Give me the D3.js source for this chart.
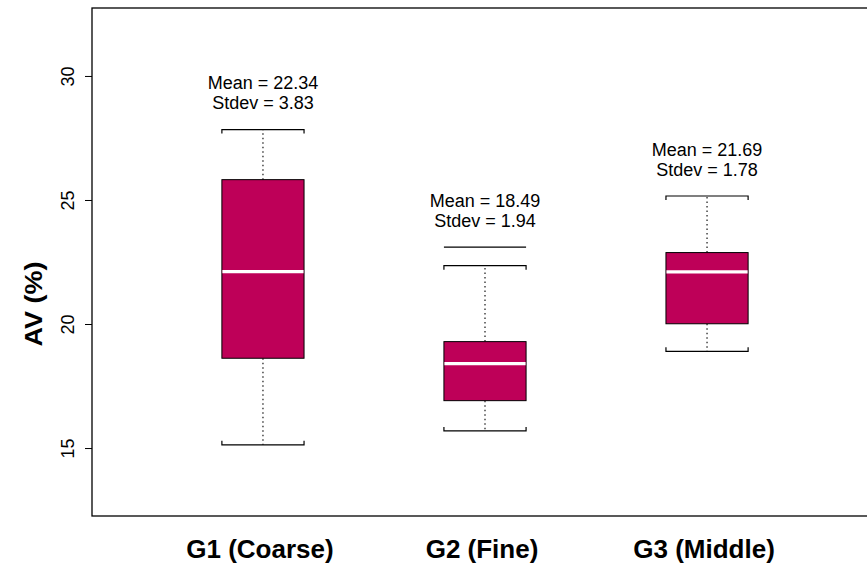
<!DOCTYPE html>
<html><head><meta charset="utf-8">
<script src="https://cdn.jsdelivr.net/npm/d3@7"></script>
<style>html,body{margin:0;padding:0;background:#fff;}svg{display:block;}</style>
</head><body>
<script>
const categories = ["G1 (Coarse)", "G2 (Fine)", "G3 (Middle)"];
const whiskerLow = [15.13, 15.69, 18.90];
const q1 = [18.62, 16.91, 20.01];
const median = [22.11, 18.40, 22.10];
const q3 = [25.82, 19.29, 22.88];
const whiskerHigh = [27.84, 22.35, 25.16];
const outliers = [[], [23.1], []];
const means = ["22.34", "18.49", "21.69"];
const stdevs = ["3.83", "1.94", "1.78"];
const yTicks = [15, 20, 25, 30];

const W = 867, H = 563;
const svg = d3.select("body").append("svg").attr("width", W).attr("height", H);
const y = d3.scaleLinear().domain([12.26, 32.74]).range([516, 8]);
const x = d3.scaleLinear().domain([0.23, 3.77]).range([92, 878]);
const boxW = 0.37;
const fill = "#BE0058";
const font = "'Liberation Sans', Arial, Helvetica, sans-serif";

// frame
svg.append("rect").attr("x", x(0.23)).attr("y", y(32.74)).attr("width", x(3.77) - x(0.23)).attr("height", y(12.26) - y(32.74))
  .attr("fill", "none").attr("stroke", "#000").attr("stroke-width", 1.3);

// y axis
const yAxis = d3.axisLeft(y).tickValues(yTicks).tickSize(7).tickFormat(d3.format("d"));
const ga = svg.append("g").attr("transform", `translate(${x(0.23)},0)`).call(yAxis);
ga.select(".domain").remove();
ga.selectAll(".tick line").attr("stroke", "#000").attr("stroke-width", 1);
ga.selectAll(".tick text").attr("font-family", font).attr("font-size", 18).attr("fill", "#000")
  .attr("x", null).attr("dy", null).attr("text-anchor", "middle")
  .attr("transform", "translate(-18,0) rotate(-90)").attr("y", 0);

svg.append("text").attr("transform", `translate(42,${(y(12.26)+y(32.74))/2 + 42}) rotate(-90) scale(1.1,1)`)
  .attr("font-family", font).attr("font-weight", "bold").attr("font-size", 24.5).attr("text-anchor", "middle")
  .text("AV (%)");

categories.forEach((c, i) => {
  const cx = i + 1;
  const xl = x(cx - boxW / 2), xr = x(cx + boxW / 2), xm = x(cx);
  const g = svg.append("g");
  // whiskers
  g.append("line").attr("x1", xm).attr("x2", xm).attr("y1", y(q3[i])).attr("y2", y(whiskerHigh[i]))
    .attr("stroke", "#000").attr("stroke-width", 1.1).attr("stroke-dasharray", "1.5,3");
  g.append("line").attr("x1", xm).attr("x2", xm).attr("y1", y(q1[i])).attr("y2", y(whiskerLow[i]))
    .attr("stroke", "#000").attr("stroke-width", 1.1).attr("stroke-dasharray", "1.5,3");
  // caps (bracket shape)
  g.append("path").attr("d", `M${xl},${y(whiskerHigh[i]) + 4}V${y(whiskerHigh[i])}H${xr}V${y(whiskerHigh[i]) + 4}`)
    .attr("fill", "none").attr("stroke", "#000").attr("stroke-width", 1.2);
  g.append("path").attr("d", `M${xl},${y(whiskerLow[i]) - 4}V${y(whiskerLow[i])}H${xr}V${y(whiskerLow[i]) - 4}`)
    .attr("fill", "none").attr("stroke", "#000").attr("stroke-width", 1.2);
  // box
  g.append("rect").attr("x", xl).attr("y", y(q3[i])).attr("width", xr - xl).attr("height", y(q1[i]) - y(q3[i]))
    .attr("fill", fill).attr("stroke", "#000").attr("stroke-width", 1);
  g.append("line").attr("x1", xl + 0.5).attr("x2", xr - 0.5).attr("y1", y(median[i])).attr("y2", y(median[i]))
    .attr("stroke", "#fff").attr("stroke-width", 3.2);
  // outliers
  outliers[i].forEach(o => {
    g.append("line").attr("x1", xl).attr("x2", xr).attr("y1", y(o)).attr("y2", y(o))
      .attr("stroke", "#000").attr("stroke-width", 1.2);
  });
  // labels
  const top = d3.max([whiskerHigh[i], ...outliers[i]]);
  const ly = y(top + 1.5);
  const t = g.append("text").attr("font-family", font).attr("font-size", 18).attr("text-anchor", "middle");
  t.append("tspan").attr("x", xm).attr("y", ly - 3).text(`Mean = ${means[i]}`);
  t.append("tspan").attr("x", xm).attr("y", ly + 17).text(`Stdev = ${stdevs[i]}`);
  // category label
  svg.append("text").attr("x", xm - 3).attr("y", 557.5).attr("font-family", font).attr("font-weight", "bold")
    .attr("font-size", 26).attr("text-anchor", "middle").text(c);
});
</script>
</body></html>
